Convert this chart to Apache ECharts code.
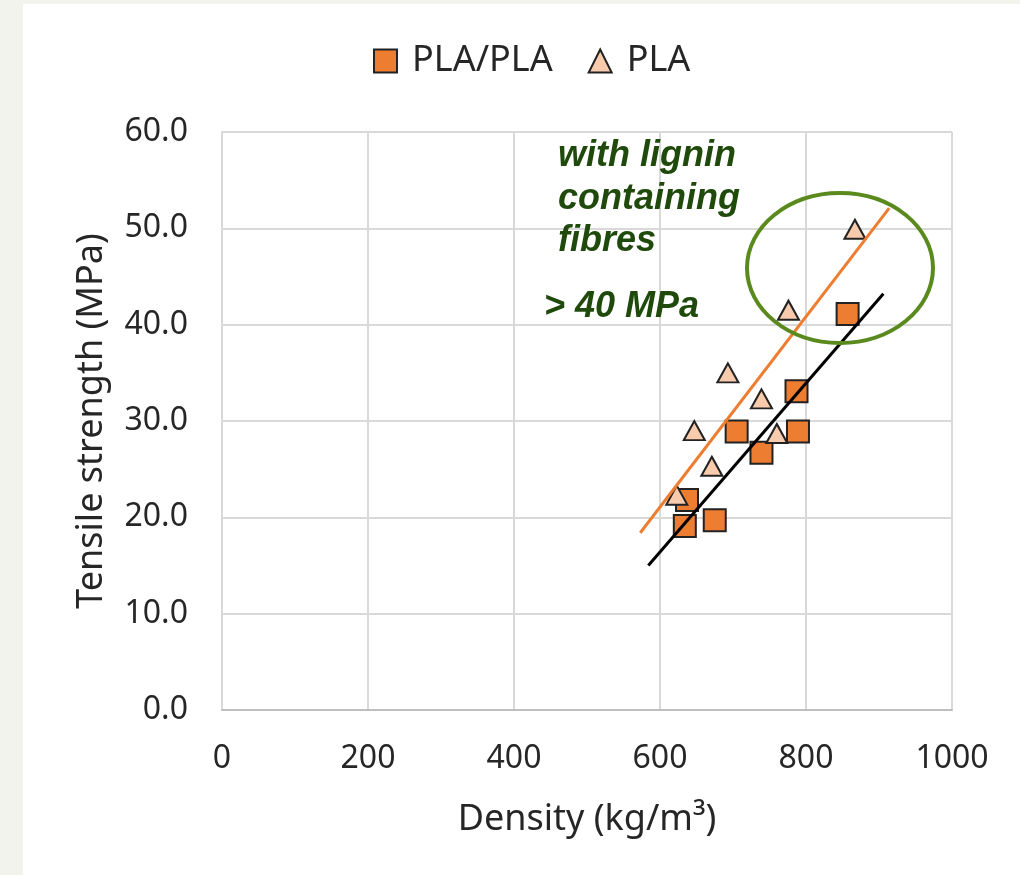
<!DOCTYPE html>
<html>
<head>
<meta charset="utf-8">
<script src="https://cdn.jsdelivr.net/npm/echarts@6/dist/echarts.min.js"></script>
<style>
  html, body { margin: 0; padding: 0; background: #f2f3ed; }
  #main { position: absolute; left: 23px; top: 4px; width: 997px; height: 871px; background: #ffffff; }
</style>
</head>
<body>
<div id="main"></div>
<script>
// PLA/PLA points [density, tensile strength]
var plaPlaPoints = [
  [857, 41.1], [787, 33.1], [705, 28.9], [789, 28.9],
  [739, 26.7], [637, 21.8], [634, 19.1], [675, 19.7]
];
// PLA points
var plaPoints = [
  [867, 49.9], [776, 41.5], [693, 35.0], [739, 32.3],
  [647, 29.0], [760, 28.7], [671, 25.3], [623, 22.3]
];
// trend line end points
var plaTrend = [[573, 18.4], [914, 52.1]];
var plaPlaTrend = [[584, 15.0], [906, 43.2]];

var seriesNames = ['PLA/PLA', 'PLA'];
var noteLines = ['with lignin', 'containing', 'fibres'];
var noteLimit = '> 40 MPa';

var chartDom = document.getElementById('main');
var myChart = echarts.init(chartDom);
var option;

var textColor = '#262626';
var tickFont = { fontFamily: 'Noto Sans', fontSize: 32, color: textColor };

option = {
  animation: false,
  backgroundColor: '#ffffff',
  legend: {
    data: seriesNames,
    left: 345,
    top: 34,
    itemWidth: 23,
    itemHeight: 23,
    itemGap: 35,
    textStyle: { fontFamily: 'Noto Sans', fontSize: 36, color: textColor, padding: [0, 0, 0, 10] }
  },
  grid: { left: 199, top: 128, right: 68, bottom: 165 },
  xAxis: {
    type: 'value',
    min: 0, max: 1000, interval: 200,
    name: 'Density (kg/m\u00b3)',
    nameLocation: 'middle',
    nameGap: 92,
    nameTextStyle: { fontFamily: 'Noto Sans', fontSize: 36, color: textColor },
    axisLine: { show: true, lineStyle: { color: '#bfbfbf', width: 2 } },
    axisTick: { show: false },
    axisLabel: Object.assign({
      margin: 33,
      lineHeight: 32,
      formatter: function (v) { return String(v); }
    }, tickFont),
    splitLine: { show: true, lineStyle: { color: '#d9d9d9', width: 2 } }
  },
  yAxis: {
    type: 'value',
    min: 0, max: 60, interval: 10,
    name: 'Tensile strength (MPa)',
    nameLocation: 'middle',
    nameGap: 112,
    nameTextStyle: { fontFamily: 'Noto Sans', fontSize: 36, color: textColor },
    axisLine: { show: true, lineStyle: { color: '#d9d9d9', width: 2 } },
    axisTick: { show: false },
    axisLabel: Object.assign({
      margin: 34,
      formatter: function (v) { return v.toFixed(1); }
    }, tickFont),
    splitLine: { show: true, lineStyle: { color: '#d9d9d9', width: 2 } }
  },
  series: [
    {
      name: 'PLA/PLA',
      type: 'scatter',
      symbol: 'rect',
      symbolSize: 22,
      itemStyle: { color: '#ed7d31', borderColor: '#222222', borderWidth: 2, opacity: 1 },
      data: plaPlaPoints,
      z: 2
    },
    {
      name: 'PLA',
      type: 'scatter',
      symbol: 'triangle',
      symbolSize: [21, 19],
      itemStyle: { color: '#f8cbad', borderColor: '#222222', borderWidth: 2, opacity: 1 },
      data: plaPoints,
      z: 2
    },
    {
      name: 'PLA trend',
      type: 'line',
      data: plaTrend,
      symbol: 'none',
      lineStyle: { color: '#ed7d31', width: 3 },
      z: 3
    },
    {
      name: 'PLA/PLA trend',
      type: 'line',
      data: plaPlaTrend,
      symbol: 'none',
      lineStyle: { color: '#000000', width: 3 },
      z: 3
    }
  ],
  graphic: [
    {
      type: 'text',
      left: 535,
      top: 131,
      z: 10,
      style: {
        text: noteLines.join('\n'),
        font: 'italic bold 36px "Liberation Sans"',
        lineHeight: 42.5,
        fill: '#1f4a0c'
      }
    },
    {
      type: 'text',
      left: 521,
      top: 285,
      z: 10,
      style: {
        text: noteLimit,
        font: 'italic bold 36px "Liberation Sans"',
        fill: '#1f4a0c'
      }
    },
    {
      type: 'ellipse',
      z: 10,
      shape: { cx: 817, cy: 264, rx: 93, ry: 75 },
      style: { fill: 'none', stroke: '#5a8a1e', lineWidth: 4 }
    }
  ]
};

option && myChart.setOption(option);
</script>
</body>
</html>
